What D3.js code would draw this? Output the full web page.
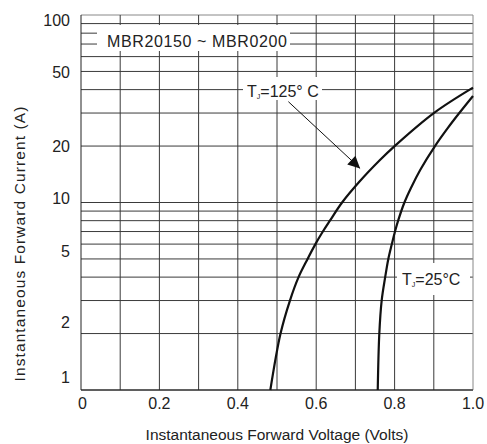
<!DOCTYPE html>
<html>
<head>
<meta charset="utf-8">
<script src="https://cdn.jsdelivr.net/npm/d3@7"></script>
<style>
  html, body { margin: 0; padding: 0; background: #fff; }
  svg { display: block; font-family: "Liberation Sans", Arial, sans-serif; }
</style>
</head>
<body>
<svg id="chart" width="487" height="444"></svg>
<script>
// 값은 그림에서 읽음 (log-y 순방향 특성)
var xTicks = [0, 0.2, 0.4, 0.6, 0.8, 1.0];
var xTickLabels = ['0', '0.2', '0.4', '0.6', '0.8', '1.0'];
var yTicks = [100, 50, 20, 10, 5, 2, 1];
var yGrid = [1, 2, 3, 4, 5, 6, 7, 8, 9, 10, 20, 30, 40, 50, 60, 70, 80, 90, 100];
var xGrid = [0.1, 0.2, 0.3, 0.4, 0.5, 0.6, 0.7, 0.8, 0.9];

var tj125Volts = [0.483, 0.509, 0.533, 0.555, 0.578, 0.598, 0.617, 0.635, 0.666, 0.710, 0.762, 0.800, 0.900, 1.000];
var tj125Amps  = [1, 2, 3, 4, 5, 6, 7, 8, 10, 12.9, 16.8, 20, 30, 41];
var tj25Volts  = [0.757, 0.761, 0.767, 0.776, 0.784, 0.793, 0.801, 0.809, 0.825, 0.842, 0.866, 0.903, 0.936, 0.965, 1.000];
var tj25Amps   = [1, 2, 3, 4, 5, 6, 7, 8, 10, 12, 15, 20, 25, 30, 37];

(function () {
    var svg = d3.select('#chart');
    var m = { left: 81, right: 473, top: 15, bottom: 390 };

    var x = d3.scaleLinear().domain([0, 1]).range([m.left, m.right]);
    var y = d3.scaleLog().domain([1, 100]).range([m.bottom, m.top]);

    // 그리드
    var grid = svg.append('g').attr('stroke', '#3a3a3a').attr('stroke-width', 1);
    grid.selectAll('line.h').data(yGrid).join('line')
        .attr('class', 'h')
        .attr('x1', m.left).attr('x2', m.right)
        .attr('y1', function (d) { return y(d); })
        .attr('y2', function (d) { return y(d); })
        .attr('stroke', function (d) { return d === 100 ? '#888' : null; });
    grid.selectAll('line.v').data(xGrid).join('line')
        .attr('class', 'v')
        .attr('x1', function (d) { return x(d); })
        .attr('x2', function (d) { return x(d); })
        .attr('y1', m.top).attr('y2', m.bottom);
    // 테두리
    grid.append('line').attr('x1', m.right).attr('x2', m.right)
        .attr('y1', m.top).attr('y2', m.bottom).attr('stroke', '#888');
    grid.append('line').attr('x1', m.left).attr('x2', m.left)
        .attr('y1', m.top).attr('y2', m.bottom).attr('stroke', '#222');
    grid.append('line').attr('x1', m.left).attr('x2', m.right)
        .attr('y1', m.bottom).attr('y2', m.bottom).attr('stroke', '#222');

    // 라벨 박스 (흰 배경으로 그리드 가림)
    function box(x0, y0, x1, y1) {
        svg.append('rect').attr('x', x0).attr('y', y0)
            .attr('width', x1 - x0).attr('height', y1 - y0).attr('fill', '#fff');
    }
    box(97, 25, 290, 51);
    box(243, 77, 322, 100);
    box(397, 263, 470, 295);

    // 곡선
    var line = d3.line()
        .x(function (d) { return x(d[0]); })
        .y(function (d) { return y(d[1]); })
        .curve(d3.curveCatmullRom.alpha(0.5));
    [[tj125Volts, tj125Amps], [tj25Volts, tj25Amps]].forEach(function (s) {
        svg.append('path')
            .datum(d3.zip(s[0], s[1]))
            .attr('fill', 'none')
            .attr('stroke', '#111')
            .attr('stroke-width', 2.2)
            .attr('d', line);
    });

    // 화살표
    svg.append('defs').append('marker')
        .attr('id', 'arr').attr('viewBox', '0 0 10 10')
        .attr('refX', 10).attr('refY', 5)
        .attr('markerWidth', 15).attr('markerHeight', 12)
        .attr('markerUnits', 'userSpaceOnUse')
        .attr('orient', 'auto')
        .append('path').attr('d', 'M0,0 L10,5 L0,10 Z').attr('fill', '#111');
    svg.append('line')
        .attr('x1', x(0.529)).attr('y1', y(34.5))
        .attr('x2', x(0.712)).attr('y2', y(15.2))
        .attr('stroke', '#111').attr('stroke-width', 1)
        .attr('marker-end', 'url(#arr)');

    // 텍스트
    var txt = svg.append('g').attr('fill', '#222');
    txt.append('text').attr('x', 107).attr('y', 41)
        .attr('dominant-baseline', 'central')
        .attr('font-size', 16).attr('textLength', 180)
        .text('MBR20150 ~ MBR0200');

    var t125 = txt.append('text').attr('x', 247).attr('y', 91)
        .attr('dominant-baseline', 'central').attr('font-size', 16);
    t125.append('tspan').text('T');
    t125.append('tspan').attr('font-size', 7).attr('dy', 5).text('J');
    t125.append('tspan').attr('dy', -5).text('=125° C');

    var t25 = txt.append('text').attr('x', 402).attr('y', 279)
        .attr('dominant-baseline', 'central').attr('font-size', 16);
    t25.append('tspan').text('T');
    t25.append('tspan').attr('font-size', 7).attr('dy', 5).text('J');
    t25.append('tspan').attr('dy', -5).text('=25°C');

    // y 눈금 라벨 (원본 위치 보정)
    var yNudge = { 100: 5, 50: 1, 20: 0, 10: -4.5, 5: -7, 2: -11, 1: -13 };
    txt.selectAll('text.yt').data(yTicks).join('text')
        .attr('class', 'yt')
        .attr('x', 70)
        .attr('y', function (d) { return y(d) + yNudge[d]; })
        .attr('text-anchor', 'end')
        .attr('dominant-baseline', 'central')
        .attr('font-size', 16)
        .text(function (d) { return d; });

    txt.selectAll('text.xt').data(xTicks).join('text')
        .attr('class', 'xt')
        .attr('x', function (d, i) { return x(d) + (i === 0 ? 1.5 : 0); })
        .attr('y', 403)
        .attr('text-anchor', 'middle')
        .attr('dominant-baseline', 'central')
        .attr('font-size', 16)
        .text(function (d, i) { return xTickLabels[i]; });

    txt.append('text')
        .attr('x', 277).attr('y', 434)
        .attr('text-anchor', 'middle').attr('dominant-baseline', 'central')
        .attr('font-size', 15.5)
        .text('Instantaneous Forward Voltage (Volts)');

    txt.append('text')
        .attr('transform', 'translate(19,244) rotate(-90)')
        .attr('text-anchor', 'middle').attr('dominant-baseline', 'central')
        .attr('font-size', 15.5).attr('textLength', 275)
        .text('Instantaneous Forward Current (A)');
})();
</script>
</body>
</html>
